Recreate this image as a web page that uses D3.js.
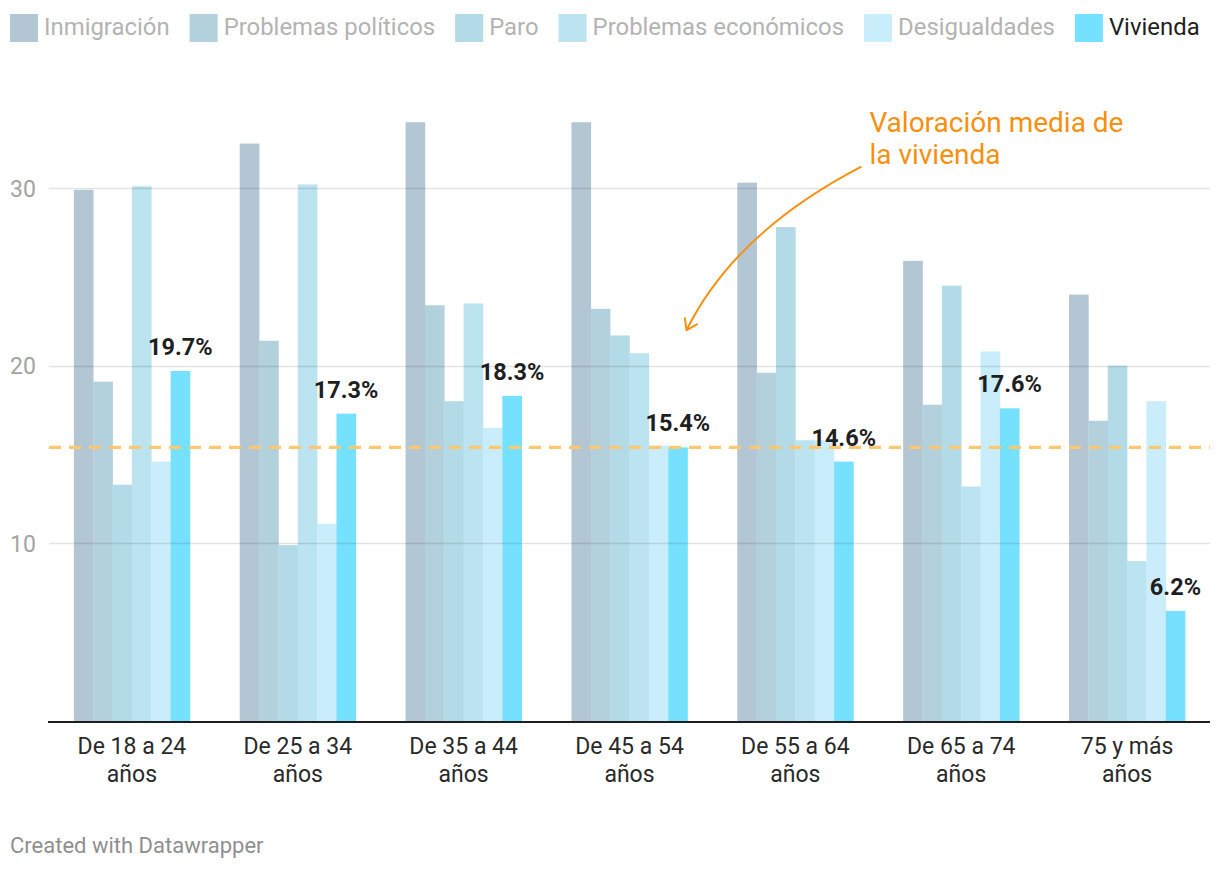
<!DOCTYPE html>
<html>
<head>
<meta charset="utf-8">
<script src="https://cdn.jsdelivr.net/npm/d3@7/dist/d3.min.js"></script>
<style>
  html, body { margin: 0; padding: 0; background: #fff; }
  svg { display: block; font-family: Roboto, "Noto Sans", sans-serif; }
</style>
</head>
<body>
<svg id="chart" width="1220" height="872"></svg>
<script>
// ---- data ----
const categories = [
  ["De 18 a 24", "años"],
  ["De 25 a 34", "años"],
  ["De 35 a 44", "años"],
  ["De 45 a 54", "años"],
  ["De 55 a 64", "años"],
  ["De 65 a 74", "años"],
  ["75 y más", "años"]
];
const seriesNames = ["Inmigración", "Problemas políticos", "Paro", "Problemas económicos", "Desigualdades", "Vivienda"];
const inmigracion = [29.9, 32.5, 33.7, 33.7, 30.3, 25.9, 24.0];
const problemasPoliticos = [19.1, 21.4, 23.4, 23.2, 19.6, 17.8, 16.9];
const paro = [13.3, 9.9, 18.0, 21.7, 27.8, 24.5, 20.0];
const problemasEconomicos = [30.1, 30.2, 23.5, 20.7, 15.8, 13.2, 9.0];
const desigualdades = [14.6, 11.1, 16.5, 15.5, 15.8, 20.8, 18.0];
const vivienda = [19.7, 17.3, 18.3, 15.4, 14.6, 17.6, 6.2];
const meanVivienda = [15.4];
const yTicks = [10, 20, 30];
const annotationLines = ["Valoración media de", "la vivienda"];
const footerText = "Created with Datawrapper";

const seriesValues = [inmigracion, problemasPoliticos, paro, problemasEconomicos, desigualdades, vivienda];
const colors = ["#b3c6d3", "#b3d1dc", "#b3dae7", "#bbe3f0", "#c9edfb", "#76e1fe"];
const legendTextColors = ["#b3b3b3", "#b3b3b3", "#b3b3b3", "#b3b3b3", "#b3b3b3", "#1f1f1f"];

// ---- layout ----
const svg = d3.select("#chart");
const plotLeft = 49, plotRight = 1210, plotTop = 188, plotBottom = 721;

const x0 = d3.scaleBand().domain(d3.range(categories.length)).range([plotLeft, plotRight])
  .paddingInner(0.3).paddingOuter(0.15);
const x1 = d3.scaleBand().domain(d3.range(seriesNames.length)).range([0, x0.bandwidth()]).padding(0);
const y = d3.scaleLinear().domain([0, 30]).range([plotBottom, plotTop]);

// legend
const legend = svg.append("g").attr("class", "legend");
let lx = 10;
seriesNames.forEach((name, i) => {
  const g = legend.append("g");
  g.append("rect").attr("x", lx).attr("y", 14).attr("width", 28).attr("height", 28).attr("fill", colors[i]);
  const t = g.append("text").attr("x", lx + 34).attr("y", 35)
    .attr("font-size", 23.9).attr("fill", legendTextColors[i]).text(name);
  const w = t.node().getComputedTextLength();
  lx += 34 + w + 20;
});

// bars
const groups = svg.append("g").selectAll("g").data(categories).join("g")
  .attr("transform", (d, i) => `translate(${x0(i)},0)`);
groups.each(function(d, gi) {
  d3.select(this).selectAll("rect").data(seriesValues.map((s, si) => ({ si, v: s[gi] })))
    .join("rect")
    .attr("x", e => x1(e.si))
    .attr("width", x1.bandwidth() + 0.3)
    .attr("y", e => y(e.v))
    .attr("height", e => y(0) - y(e.v))
    .attr("fill", e => colors[e.si]);
});

// gridlines (on top, translucent)
const grid = svg.append("g");
grid.selectAll("line").data(yTicks).join("line")
  .attr("x1", plotLeft).attr("x2", plotRight)
  .attr("y1", d => Math.round(y(d)) + 0.5).attr("y2", d => Math.round(y(d)) + 0.5)
  .attr("stroke", "rgba(0,0,0,0.11)").attr("stroke-width", 1.5);

// y tick labels
svg.append("g").selectAll("text").data(yTicks).join("text")
  .attr("x", 10).attr("y", d => y(d) + 8.5)
  .attr("font-size", 23).attr("fill", "#a3a3a3")
  .text(d => d);

// baseline
svg.append("line").attr("x1", plotLeft - 1).attr("x2", plotRight)
  .attr("y1", y(0) + 1).attr("y2", y(0) + 1)
  .attr("stroke", "#1e1e1e").attr("stroke-width", 2);

// mean line
svg.append("g").selectAll("line").data(meanVivienda).join("line")
  .attr("x1", plotLeft).attr("x2", plotRight)
  .attr("y1", d => y(d)).attr("y2", d => y(d))
  .attr("stroke", "#ffc870").attr("stroke-width", 3.2)
  .attr("stroke-dasharray", "12,8");

// value labels for Vivienda
const vIdx = 5;
svg.append("g").selectAll("text").data(vivienda).join("text")
  .attr("x", (d, i) => x0(i) + x1(vIdx) + x1.bandwidth() / 2)
  .attr("y", d => y(d) - 16)
  .attr("text-anchor", "middle")
  .attr("font-size", 23.5).attr("font-weight", 700).attr("fill", "#1f1f1f")
  .text(d => d.toFixed(1) + "%");

// x axis labels
const xl = svg.append("g").selectAll("text").data(categories).join("text")
  .attr("x", (d, i) => x0(i) + x0.bandwidth() / 2)
  .attr("y", 754)
  .attr("text-anchor", "middle")
  .attr("font-size", 23).attr("fill", "#2a2a2a");
xl.selectAll("tspan").data(d => d).join("tspan")
  .attr("x", function() { return d3.select(this.parentNode).attr("x"); })
  .attr("dy", (d, i) => i === 0 ? 0 : 28)
  .text(d => d);

// annotation
const orange = "#f78f0f";
const annX = x0(4) + x0.bandwidth();
const ann = svg.append("g");
ann.selectAll("text").data(annotationLines).join("text")
  .attr("x", annX + 16)
  .attr("y", (d, i) => 132 + i * 32)
  .attr("font-size", 28).attr("fill", orange)
  .text(d => d);

const start = [annX + 8, y(31.2)];
const end = [x0(3) + x0.bandwidth() - 1, y(22.0)];
const ctrl = [x0(4) - 2.5, y(27.5)];
const p = d3.path();
p.moveTo(start[0], start[1]);
p.quadraticCurveTo(ctrl[0], ctrl[1], end[0], end[1]);
ann.append("path").attr("d", p.toString()).attr("fill", "none")
  .attr("stroke", orange).attr("stroke-width", 2);
// arrowhead
const ang = Math.atan2(end[1] - ctrl[1], end[0] - ctrl[0]);
const L = 12, spread = 0.6;
const a1 = [end[0] - L * Math.cos(ang - spread), end[1] - L * Math.sin(ang - spread)];
const a2 = [end[0] - L * Math.cos(ang + spread), end[1] - L * Math.sin(ang + spread)];
ann.append("path")
  .attr("d", `M${a1[0]},${a1[1]}L${end[0]},${end[1]}L${a2[0]},${a2[1]}`)
  .attr("fill", "none").attr("stroke", orange).attr("stroke-width", 2)
  .attr("stroke-linejoin", "round").attr("stroke-linecap", "round");

// footer
svg.append("text").attr("x", 10).attr("y", 853)
  .attr("font-size", 22).attr("fill", "#8f8f8f").text(footerText);
</script>
</body>
</html>
